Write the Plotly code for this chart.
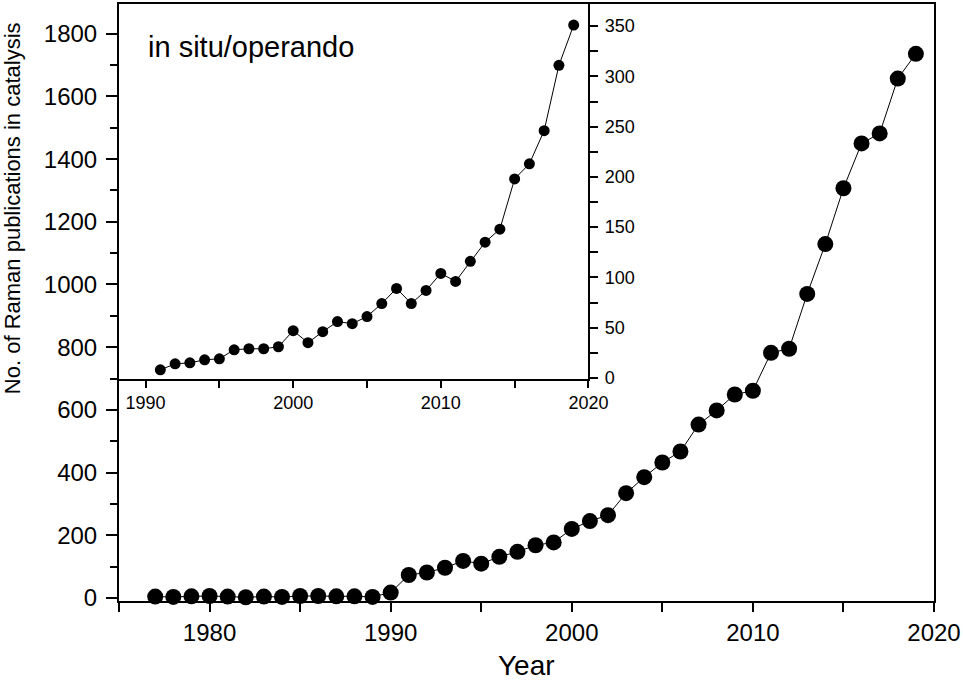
import plotly.graph_objects as go

# main plot: all Raman publications in catalysis
years = list(range(1977, 2020))
publications = [
    4, 3, 5, 6, 4, 2, 4, 3, 6, 6, 5, 5, 3, 17,
    73, 81, 96, 118, 109, 131, 147, 168, 177, 220,
    245, 264, 334, 385, 432, 467, 553, 598, 649, 661,
    782, 795, 970, 1129, 1307, 1450, 1482, 1657, 1736,
]

# inset: in situ / operando publications
inset_years = list(range(1991, 2020))
inset_publications = [
    8, 14, 15, 18, 19, 28, 29, 29, 31, 47,
    35, 46, 56, 54, 61, 74, 89, 74, 87, 104,
    96, 116, 135, 148, 198, 213, 246, 311, 351,
]

FONT = "Liberation Sans, Arial, sans-serif"

fig = go.Figure()

fig.add_trace(go.Scatter(
    x=years, y=publications, mode="lines+markers",
    line=dict(color="black", width=1),
    marker=dict(color="black", size=16),
    showlegend=False, cliponaxis=False,
))

fig.add_trace(go.Scatter(
    x=inset_years, y=inset_publications, mode="lines+markers",
    xaxis="x2", yaxis="y2",
    line=dict(color="black", width=1),
    marker=dict(color="black", size=11),
    showlegend=False,
))

axis_common = dict(
    showgrid=False, zeroline=False, showline=True, linecolor="black",
    ticks="outside", tickcolor="black",
)

fig.update_layout(
    width=963, height=690,
    margin=dict(l=119, r=26, t=2, b=89),
    paper_bgcolor="white", plot_bgcolor="white",
    font=dict(family=FONT, color="black"),
    xaxis=dict(
        **axis_common, range=[1975, 2020], dtick=10, tick0=1980,
        ticklen=9, tickwidth=2, linewidth=2, mirror=True,
        ticklabeloverflow="allow",
        tickfont=dict(family=FONT, size=24, color="black"),
        minor=dict(dtick=5, ticklen=9, tickwidth=2, ticks="outside", tickcolor="black"),
    ),
    yaxis=dict(
        **axis_common, range=[-10, 1895], dtick=200,
        ticklen=11, tickwidth=2, linewidth=2, mirror=True, ticklabelstandoff=4,
        tickfont=dict(family=FONT, size=24, color="black"),
        minor=dict(dtick=100, ticklen=7, tickwidth=2, ticks="outside", tickcolor="black"),
    ),
    xaxis2=dict(
        **axis_common, domain=[0, 0.576], anchor="y2", range=[1988.2, 2020],
        dtick=10, tick0=1990, ticklen=7, tickwidth=1.5, linewidth=1.5, mirror=True,
        ticklabeloverflow="allow",
        tickfont=dict(family=FONT, size=18, color="black"),
        minor=dict(dtick=5, ticklen=7, tickwidth=1.5, ticks="outside", tickcolor="black"),
    ),
    yaxis2=dict(
        **axis_common, domain=[0.372, 1], anchor="x2", side="right",
        range=[-1, 372], dtick=50, ticklen=8, tickwidth=1.5, linewidth=1.5, mirror=True,
        ticklabelstandoff=3,
        tickfont=dict(family=FONT, size=18, color="black"),
        minor=dict(dtick=25, ticklen=8, tickwidth=1.5, ticks="outside", tickcolor="black"),
    ),
    shapes=[dict(
        type="rect", xref="paper", yref="paper", x0=0, x1=0.576, y0=0.372, y1=1,
        fillcolor="white", line=dict(width=0), layer="below",
    )],
    annotations=[
        dict(
            text="No. of Raman publications in catalysis", xref="paper", yref="paper",
            x=0, y=0.658, xshift=-107, textangle=-90, showarrow=False,
            xanchor="center", yanchor="middle", font=dict(family=FONT, size=22),
        ),
        dict(
            text="Year", xref="paper", yref="paper", x=0.5, y=0, yshift=-64,
            showarrow=False, xanchor="center", yanchor="middle",
            font=dict(family=FONT, size=28),
        ),
        dict(
            text="in situ/operando", xref="paper", yref="paper", x=0.033, y=0.928,
            showarrow=False, xanchor="left", yanchor="middle",
            font=dict(family=FONT, size=29),
        ),
    ],
)

fig.write_html(
    "out.html",
    config={"displayModeBar": False},
    post_script="document.body.style.margin='0';document.body.style.overflow='hidden';",
)
